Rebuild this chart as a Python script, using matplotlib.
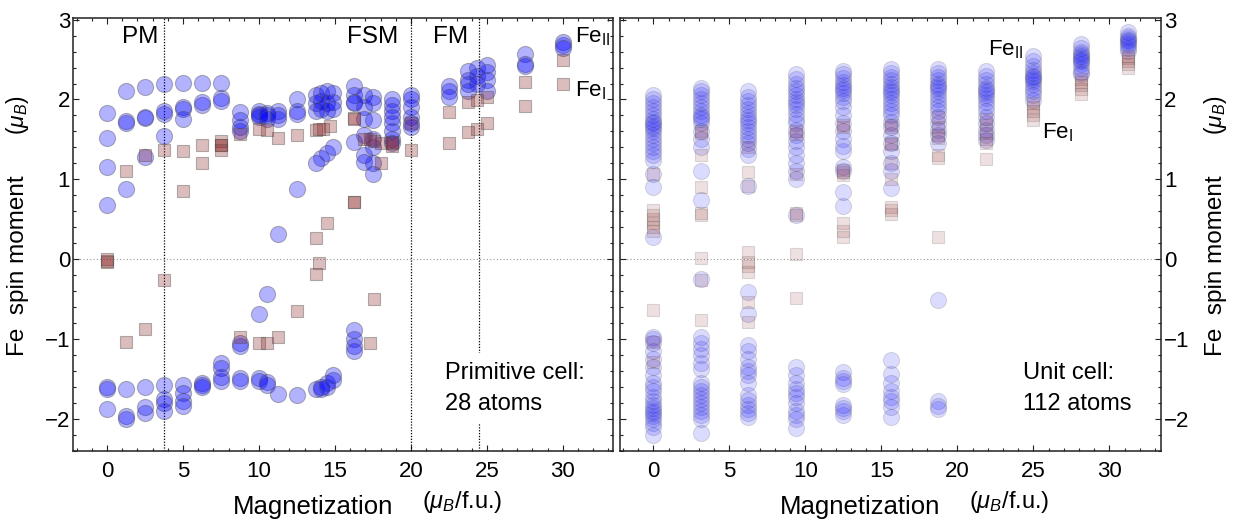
import matplotlib
matplotlib.use("Agg")
import matplotlib.pyplot as plt
from matplotlib.ticker import MultipleLocator

plt.rcParams['font.family'] = ['Liberation Sans', 'DejaVu Sans']
plt.rcParams['mathtext.fontset'] = 'custom'
plt.rcParams['mathtext.rm'] = 'Liberation Sans'
plt.rcParams['mathtext.it'] = 'Liberation Sans:italic'
plt.rcParams['mathtext.bf'] = 'Liberation Sans:bold'

# ---------------- primitive cell (28 atoms) ----------------
# Fe_II moments, grouped by total magnetization
prim_fe2_m = [0, 1.25, 2.5, 3.75, 5, 6.25, 7.5, 8.75, 10, 10.5, 11.25, 12.5,
              13.75, 14.1, 14.5, 14.9, 16.25, 16.9, 17.5, 18.75, 20,
              22.5, 23.75, 24.35, 25, 27.5, 30]
prim_fe2 = [
    [1.83, 1.52, 1.16, 0.68, -1.60, -1.62, -1.88],
    [2.10, 1.73, 1.70, 0.88, -1.63, -1.96, -2.00],
    [2.16, 1.77, 1.78, 1.28, -1.60, -1.85, -1.92],
    [2.20, 1.82, 1.85, 1.54, -1.57, -1.75, -1.80, -1.90],
    [2.21, 1.90, 1.88, 1.75, -1.57, -1.68, -1.77, -1.84],
    [2.21, 1.93, 1.97, -1.55, -1.57, -1.60],
    [2.21, 2.02, 1.98, -1.30, -1.36, -1.47, -1.52],
    [1.84, 1.74, 1.65, 1.60, -1.05, -1.09, -1.49, -1.52],
    [1.86, 1.82, 1.78, 1.80, -0.69, -1.49, -1.53],
    [1.83, 1.80, 1.76, -0.44, -1.54, -1.57],
    [1.86, 1.80, 1.75, 0.32, -1.69],
    [2.00, 1.86, 1.82, 0.88, -1.70],
    [2.05, 1.95, 1.86, 1.20, -1.62],
    [2.08, 1.98, 1.88, 1.27, -1.60, -1.62],
    [2.10, 1.95, 1.85, 1.33, -1.55, -1.60],
    [2.08, 1.97, 1.88, 1.40, -1.45, -1.51],
    [2.17, 2.05, 1.97, 1.95, 1.47, -0.89, -1.00, -1.08, -1.15],
    [2.05, 1.90, 1.75, 1.55, 1.30, 1.22],
    [2.03, 1.95, 1.74, 1.50, 1.40, 1.20, 1.07],
    [2.00, 1.93, 1.86, 1.78, 1.70, 1.60, 1.50, 1.45],
    [2.05, 2.00, 1.90, 1.78, 1.70, 1.65],
    [2.17, 2.10, 2.03],
    [2.36, 2.25, 2.20, 2.10],
    [2.40, 2.30, 2.20],
    [2.43, 2.35, 2.24, 2.10],
    [2.57, 2.45, 2.42],
    [2.72, 2.68, 2.64],
]
# Fe_I moments
prim_fe1_m = [0, 1.25, 2.5, 3.75, 5, 6.25, 7.5, 8.75, 10, 10.5, 11.25, 12.5,
              13.75, 13.95, 14.2, 14.45, 14.7, 16.25, 16.9, 17.3, 17.6, 18.0,
              18.75, 20, 22.5, 23.75, 24.35, 25, 27.5, 30]
prim_fe1 = [
    [-0.02, 0.00, -0.03],
    [1.10, -1.03],
    [1.30, -0.87],
    [1.37, -0.26],
    [1.35, 0.86],
    [1.43, 1.20],
    [1.48, 1.43, 1.43, 1.37],
    [1.57, -0.97],
    [1.63, -1.05],
    [1.62, -1.05],
    [1.52, -0.97],
    [1.55, -0.65],
    [1.62, 0.26, -0.18],
    [1.63, -0.05],
    [1.63],
    [0.45],
    [1.67],
    [1.77, 1.76, 0.72, 0.72],
    [1.51],
    [1.50, -1.05],
    [1.48, -0.50],
    [1.46, 1.20],
    [1.47, 1.42, 1.45],
    [1.70, 1.37],
    [1.84, 1.45],
    [1.97, 1.59],
    [1.99, 1.63],
    [2.03, 1.70],
    [2.22, 1.92],
    [2.49, 2.20],
]

# ---------------- unit cell (112 atoms) ----------------
unit_m = [0, 3.125, 6.25, 9.375, 12.5, 15.625, 18.75, 21.875, 25, 28.125, 31.25]
unit_fe2 = [
    [2.05, 2.0, 1.95, 1.9, 1.85, 1.8, 1.75, 1.72, 1.7, 1.67, 1.64, 1.6, 1.55,
     1.5, 1.45, 1.4, 1.35, 1.3, 1.24, 1.07, 0.9, 0.28,
     -0.97, -1.0, -1.05, -1.15, -1.25, -1.35, -1.45, -1.55, -1.6, -1.65,
     -1.72, -1.78, -1.82, -1.86, -1.9, -1.93, -1.96, -2.0, -2.05, -2.1, -2.2],
    [2.15, 2.1, 2.05, 2.0, 1.95, 1.9, 1.85, 1.8, 1.78, 1.75, 1.7, 1.6, 1.5,
     1.4, 1.1, 0.74, -0.25,
     -0.97, -1.05, -1.12, -1.2, -1.3, -1.37, -1.55, -1.6, -1.65, -1.7, -1.75,
     -1.8, -1.85, -1.9, -1.95, -2.0, -2.18],
    [2.11, 2.03, 1.98, 1.93, 1.88, 1.83, 1.78, 1.74, 1.7, 1.65, 1.6, 1.55,
     1.5, 1.45, 1.38, 1.3, 0.92, -0.41, -0.68,
     -1.07, -1.15, -1.25, -1.35, -1.4, -1.45, -1.55, -1.7, -1.76, -1.82,
     -1.88, -1.93, -1.97],
    [2.32, 2.26, 2.2, 2.15, 2.1, 2.05, 2.0, 1.97, 1.93, 1.88, 1.82, 1.76, 1.7,
     1.62, 1.55, 1.48, 1.4, 1.3, 1.2, 1.1, 1.0, 0.55,
     -1.35, -1.45, -1.55, -1.62, -1.68, -1.72, -1.8, -1.9, -1.95, -2.0, -2.11],
    [2.36, 2.32, 2.27, 2.22, 2.18, 2.15, 2.12, 2.08, 2.03, 1.98, 1.9, 1.8,
     1.7, 1.6, 1.5, 1.42, 1.36, 1.15, 1.1, 0.84, 0.67,
     -1.41, -1.48, -1.52, -1.56, -1.82, -1.86, -1.9, -1.95],
    [2.38, 2.33, 2.28, 2.24, 2.2, 2.16, 2.12, 2.09, 2.05, 2.0, 1.95, 1.9,
     1.85, 1.8, 1.72, 1.65, 1.55, 1.45, 1.35, 1.2, 1.1, 0.89,
     -1.26, -1.43, -1.55, -1.65, -1.72, -1.78, -1.85, -1.97],
    [2.38, 2.33, 2.28, 2.24, 2.2, 2.17, 2.14, 2.1, 2.05, 2.0, 1.95, 1.9,
     1.85, 1.78, 1.7, 1.62, 1.55, 1.45, -0.51, -1.78, -1.84, -1.88],
    [2.36, 2.3, 2.25, 2.2, 2.15, 2.12, 2.09, 2.06, 2.02, 1.97, 1.92, 1.85,
     1.78, 1.7, 1.62, 1.55, 1.49],
    [2.55, 2.48, 2.42, 2.37, 2.33, 2.3, 2.28, 2.26, 2.23, 2.2, 2.15, 2.1,
     2.05, 1.99],
    [2.70, 2.65, 2.6, 2.57, 2.54, 2.52, 2.5, 2.48, 2.45, 2.4, 2.35, 2.32],
    [2.84, 2.8, 2.77, 2.75, 2.73, 2.71, 2.68, 2.65, 2.61],
]
unit_fe1 = [
    [1.07, 0.62, 0.55, 0.5, 0.45, 0.4, 0.35, -0.64, -1.03, -1.28],
    [1.61, 1.58, 1.30, 0.91, 0.58, 0.55, 0.01, -0.26, -0.76],
    [1.40, 1.09, 0.92, 0.09, -0.03, -0.08, -0.16, -0.53, -0.78],
    [1.60, 1.57, 1.07, 0.58, 0.55, 0.07, -0.49],
    [1.68, 1.66, 1.12, 1.09, 1.06, 0.45, 0.36, 0.28],
    [1.68, 1.66, 1.46, 1.44, 1.20, 1.01, 0.66, 0.62, 0.57],
    [1.78, 1.65, 1.55, 1.52, 1.30, 1.27, 0.28],
    [1.76, 1.68, 1.58, 1.50, 1.46, 1.26],
    [1.95, 1.90, 1.85, 1.80, 1.74],
    [2.26, 2.22, 2.18, 2.13, 2.07],
    [2.55, 2.52, 2.48, 2.45, 2.40],
]

# phase boundaries in the primitive-cell panel
phase_bounds = [3.75, 20.0, 24.5]
phase_names = ["PM", "FSM", "FM"]
phase_name_x = [2.2, 17.5, 22.6]

W, H = 1236, 522
fig = plt.figure(figsize=(W / 100, H / 100), dpi=100)
axL = fig.add_axes([73 / W, 1 - 451 / H, 540 / W, 433 / H])
axR = fig.add_axes([620 / W, 1 - 451 / H, 541 / W, 433 / H])


def flatten(ms, groups):
    xs, ys = [], []
    for m, g in zip(ms, groups):
        xs.extend([m] * len(g))
        ys.extend(g)
    return xs, ys


def draw_points(ax, m2, g2, m1, g1, a_circ, a_sq, a_edge):
    x2, y2 = flatten(m2, g2)
    x1, y1 = flatten(m1, g1)
    ax.scatter(x2, y2, s=135, marker='o', facecolors=[(0.0, 0.0, 1.0, a_circ)],
               edgecolors=[(0.3, 0.3, 0.3, a_edge)], linewidths=0.8, zorder=3)
    ax.scatter(x1, y1, s=72, marker='s', facecolors=[(0.55, 0.15, 0.15, a_sq)],
               edgecolors=[(0.3, 0.3, 0.3, a_edge)], linewidths=0.8, zorder=4)


def style_axes(ax, xlim, label_side):
    ax.set_xlim(*xlim)
    ax.set_ylim(-2.4, 3.02)
    ax.xaxis.set_major_locator(MultipleLocator(5))
    ax.xaxis.set_minor_locator(MultipleLocator(1))
    ax.yaxis.set_major_locator(MultipleLocator(1))
    ax.yaxis.set_minor_locator(MultipleLocator(0.2))
    ax.set_xticks(range(0, 31, 5))
    ax.set_yticks(range(-2, 4))
    ax.tick_params(which='both', direction='in', top=True, bottom=True,
                   left=True, right=True, width=0.8, color='#222222')
    ax.tick_params(which='major', length=4.0)
    ax.tick_params(which='minor', length=2.2)
    ax.tick_params(axis='x', labelsize=16, pad=7.5)
    if label_side == 'left':
        ax.tick_params(axis='y', labelsize=16, pad=2, labelleft=True,
                       labelright=False)
    else:
        ax.tick_params(axis='y', labelsize=16, pad=2, labelleft=False,
                       labelright=True)
    for sp in ax.spines.values():
        sp.set_linewidth(1.1)
        sp.set_color('#222222')
    ax.axhline(0, color='#9a9a9a', lw=0.8, ls=(0, (1, 2)), zorder=1)
    # axis titles
    ax.text(0.444, -0.13, "Magnetization", transform=ax.transAxes,
            ha='center', va='center', fontsize=18.5)
    ax.text(0.72, -0.117, r"($\mu_B$/f.u.)", transform=ax.transAxes,
            ha='center', va='center', fontsize=17)
    if label_side == 'left':
        xl = -0.102
    else:
        xl = 1.101
    ax.text(xl, 0.427, "Fe  spin moment", transform=ax.transAxes,
            rotation=90, ha='center', va='center', fontsize=17.5)
    ax.text(xl, 0.775, r"($\mu_B$)", transform=ax.transAxes,
            rotation=90, ha='center', va='center', fontsize=16.5)


style_axes(axL, (-2.24, 33.3), 'left')
style_axes(axR, (-2.2, 33.4), 'right')

draw_points(axL, prim_fe2_m, prim_fe2, prim_fe1_m, prim_fe1,
            a_circ=0.30, a_sq=0.30, a_edge=0.40)
draw_points(axR, unit_m, unit_fe2, unit_m, unit_fe1,
            a_circ=0.14, a_sq=0.14, a_edge=0.18)

for xb in phase_bounds:
    axL.axvline(xb, color='black', lw=0.9, ls=(0, (1, 1.3)), zorder=2)
for name, xn in zip(phase_names, phase_name_x):
    axL.text(xn, 2.78, name, ha='center', va='center', fontsize=17.5,
             zorder=6)

axL.text(30.8, 2.78, r"Fe$_{\mathrm{II}}$", ha='left', va='center',
         fontsize=16, zorder=6)
axL.text(30.8, 2.11, r"Fe$_{\mathrm{I}}$", ha='left', va='center',
         fontsize=16, zorder=6)
axR.text(22.0, 2.62, r"Fe$_{\mathrm{II}}$", ha='left', va='center',
         fontsize=16, zorder=6)
axR.text(25.6, 1.58, r"Fe$_{\mathrm{I}}$", ha='left', va='center',
         fontsize=16, zorder=6)

axL.text(22.25, -1.62, "Primitive cell:\n28 atoms", ha='left', va='center',
         fontsize=17, linespacing=1.5, zorder=6,
         bbox=dict(boxstyle='square,pad=0.4', fc='white', ec='none'))
axR.text(24.3, -1.62, "Unit cell:\n112 atoms", ha='left', va='center',
         fontsize=17, linespacing=1.5, zorder=6,
         bbox=dict(boxstyle='square,pad=0.4', fc='white', ec='none'))

fig.savefig("out.png", dpi=100)
